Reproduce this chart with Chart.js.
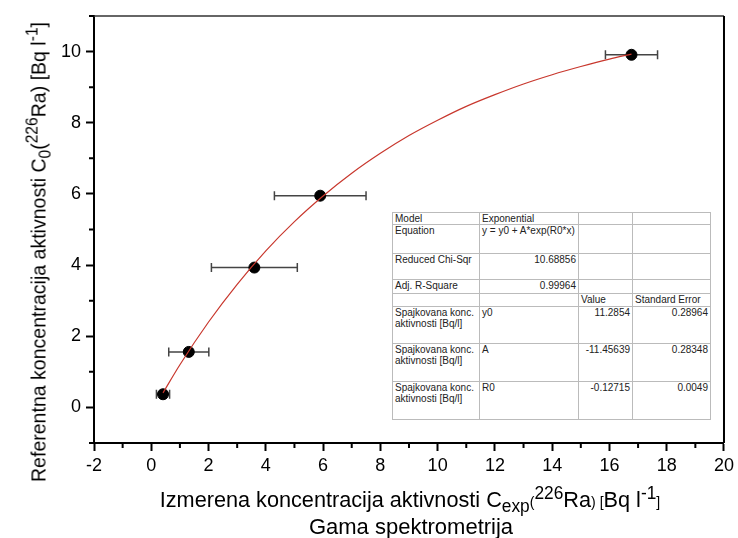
<!DOCTYPE html>
<html>
<head>
<meta charset="utf-8">
<script src="https://cdn.jsdelivr.net/npm/chart.js@4/dist/chart.umd.min.js"></script>
<style>
  html, body { margin: 0; padding: 0; background: #fff; }
  #wrap { position: relative; width: 738px; height: 538px; font-family: "Liberation Sans", Arial, sans-serif; color: #000; }
  #c { position: absolute; left: 0; top: 0; }
  .ttl { position: absolute; white-space: nowrap; line-height: 1; }
  .ttl sup, .ttl sub { font-size: 0.8em; line-height: 0; }
  #ytitle { left: 38px; top: 252px; font-size: 21px; transform: translate(-50%, -50%) rotate(-90deg) scaleX(0.93); }
  #xtitle1 { left: 410px; top: 489px; font-size: 22px; transform: translateX(-50%) scaleX(0.985); }
  #xtitle2 { left: 411px; top: 516px; font-size: 22px; transform: translateX(-50%); }
  .sm { font-size: 0.65em; }
  #fit { position: absolute; left: 392px; top: 212px; border-collapse: collapse; border: 1px solid #000;
         font-size: 10px; color: #222; background: #fff; table-layout: fixed; }
  #fit td { border: 1px solid #bbb; padding: 0 2px; vertical-align: top; line-height: 11px; overflow: hidden; white-space: nowrap; }
  #fit td.w { white-space: normal; }
  #fit td.r { text-align: right; }
</style>
</head>
<body>
<div id="wrap">
  <canvas id="c" width="738" height="538"></canvas>
  <div id="ytitle" class="ttl">Referentna koncentracija aktivnosti C<sub>0</sub>(<sup>226</sup>Ra) [Bq l<sup>-1</sup>]</div>
  <div id="xtitle1" class="ttl">Izmerena koncentracija aktivnosti C<sub>exp</sub><span class="sm">(</span><sup>226</sup>Ra<span class="sm">) [</span>Bq l<sup>-1</sup><span class="sm">]</span></div>
  <div id="xtitle2" class="ttl">Gama spektrometrija</div>
  <table id="fit">
    <colgroup><col style="width:87px"><col style="width:99px"><col style="width:54px"><col style="width:78px"></colgroup>
    <tr style="height:11px"><td>Model</td><td>Exponential</td><td></td><td></td></tr>
    <tr style="height:29px"><td>Equation</td><td>y = y0 + A*exp(R0*x)</td><td></td><td></td></tr>
    <tr style="height:26px"><td>Reduced Chi-Sqr</td><td class="r">10.68856</td><td></td><td></td></tr>
    <tr style="height:14px"><td>Adj. R-Square</td><td class="r">0.99964</td><td></td><td></td></tr>
    <tr style="height:13px"><td></td><td></td><td>Value</td><td>Standard Error</td></tr>
    <tr style="height:37px"><td class="w">Spajkovana konc. aktivnosti [Bq/l]</td><td>y0</td><td class="r">11.2854</td><td class="r">0.28964</td></tr>
    <tr style="height:38px"><td class="w">Spajkovana konc. aktivnosti [Bq/l]</td><td>A</td><td class="r">-11.45639</td><td class="r">0.28348</td></tr>
    <tr style="height:38px"><td class="w">Spajkovana konc. aktivnosti [Bq/l]</td><td>R0</td><td class="r">-0.12715</td><td class="r">0.0049</td></tr>
  </table>
</div>
<script>
// Measured points: gamma spectrometry (x) vs reference activity (y)
const measuredX = [0.41, 1.31, 3.60, 5.90, 16.77];
const measuredY = [0.37, 1.56, 3.93, 5.95, 9.91];
const measuredXErr = [0.23, 0.70, 1.50, 1.60, 0.91];

// Exponential fit curve, sampled along x
const fitX = [0.41, 1, 2, 3, 4, 5, 6, 7, 8, 9, 10, 11, 12, 13, 14, 15, 16, 16.77];
const fitY = [0.41, 1.20, 2.40, 3.46, 4.40, 5.22, 5.94, 6.58, 7.14, 7.64, 8.07, 8.46, 8.79, 9.09, 9.35, 9.58, 9.79, 9.93];

// Axis ranges
const xMin = -2, xMax = 20;
const yMin = -1, yMax = 11;

const pts = measuredX.map((x, i) => ({ x, y: measuredY[i] }));
const fitPts = fitX.map((x, i) => ({ x, y: fitY[i] }));

// Horizontal error bars, frame lines and minor ticks
const extras = {
  id: 'extras',
  beforeDatasetsDraw(chart) {
    const { ctx, scales: { x, y } } = chart;
    ctx.save();
    ctx.strokeStyle = '#444';
    ctx.lineWidth = 1.5;
    measuredX.forEach((v, i) => {
      const py = y.getPixelForValue(measuredY[i]);
      const x1 = x.getPixelForValue(v - measuredXErr[i]);
      const x2 = x.getPixelForValue(v + measuredXErr[i]);
      ctx.beginPath();
      ctx.moveTo(x1, py); ctx.lineTo(x2, py);
      ctx.moveTo(x1, py - 4.5); ctx.lineTo(x1, py + 4.5);
      ctx.moveTo(x2, py - 4.5); ctx.lineTo(x2, py + 4.5);
      ctx.stroke();
    });
    ctx.restore();
  },
  afterDraw(chart) {
    const { ctx, chartArea: a, scales: { x, y } } = chart;
    ctx.save();
    ctx.strokeStyle = '#333';
    ctx.lineWidth = 1.5;
    ctx.beginPath();
    ctx.moveTo(a.left - 1, a.top); ctx.lineTo(a.right, a.top);
    ctx.stroke();
    ctx.strokeStyle = '#000';
    ctx.lineWidth = 2;
    ctx.beginPath();
    ctx.moveTo(a.right, a.top); ctx.lineTo(a.right, a.bottom);
    ctx.stroke();
    // minor ticks at odd values
    ctx.beginPath();
    for (let v = xMin + 1; v < xMax; v += 2) {
      const px = x.getPixelForValue(v);
      ctx.moveTo(px, a.bottom); ctx.lineTo(px, a.bottom + 5);
    }
    for (let v = yMin; v <= yMax; v += 2) {
      const py = y.getPixelForValue(v);
      ctx.moveTo(a.left, py); ctx.lineTo(a.left - 5, py);
    }
    ctx.stroke();
    ctx.restore();
  }
};

const tickFont = { family: '"Liberation Sans", Arial, sans-serif', size: 18 };
const majorColor = c => (c.tick && c.tick.value % 2 === 0) ? '#000' : 'rgba(0,0,0,0)';

new Chart(document.getElementById('c'), {
  type: 'scatter',
  data: {
    datasets: [
      {
        label: 'Fit',
        data: fitPts,
        showLine: true,
        borderColor: '#c8372d',
        borderWidth: 1.2,
        pointRadius: 0,
        cubicInterpolationMode: 'monotone',
        order: 0
      },
      {
        label: 'Data',
        data: pts,
        backgroundColor: '#000',
        borderColor: '#000',
        pointRadius: 5.5,
        order: 1
      }
    ]
  },
  options: {
    responsive: false,
    animation: false,
    layout: { padding: { left: 0, top: 16, right: 12, bottom: 0 } },
    plugins: { legend: { display: false }, tooltip: { enabled: false } },
    scales: {
      x: {
        type: 'linear', min: xMin, max: xMax,
        afterFit: s => { s.height = 95; },
        border: { color: '#000', width: 2 },
        grid: { drawOnChartArea: false, drawTicks: true, tickLength: 8, tickWidth: 2, tickColor: majorColor },
        ticks: { stepSize: 1, autoSkip: false, maxRotation: 0, padding: 4, color: '#000', font: tickFont,
                 callback: v => (v % 2 === 0 ? String(v) : '') }
      },
      y: {
        type: 'linear', min: yMin, max: yMax,
        afterFit: s => { s.width = 94; },
        border: { color: '#000', width: 2 },
        grid: { drawOnChartArea: false, drawTicks: true, tickLength: 8, tickWidth: 2, tickColor: majorColor },
        ticks: { stepSize: 1, autoSkip: false, padding: 5, color: '#000', font: tickFont,
                 callback: v => (v % 2 === 0 ? String(v) : '') }
      }
    }
  },
  plugins: [extras]
});
</script>
</body>
</html>
